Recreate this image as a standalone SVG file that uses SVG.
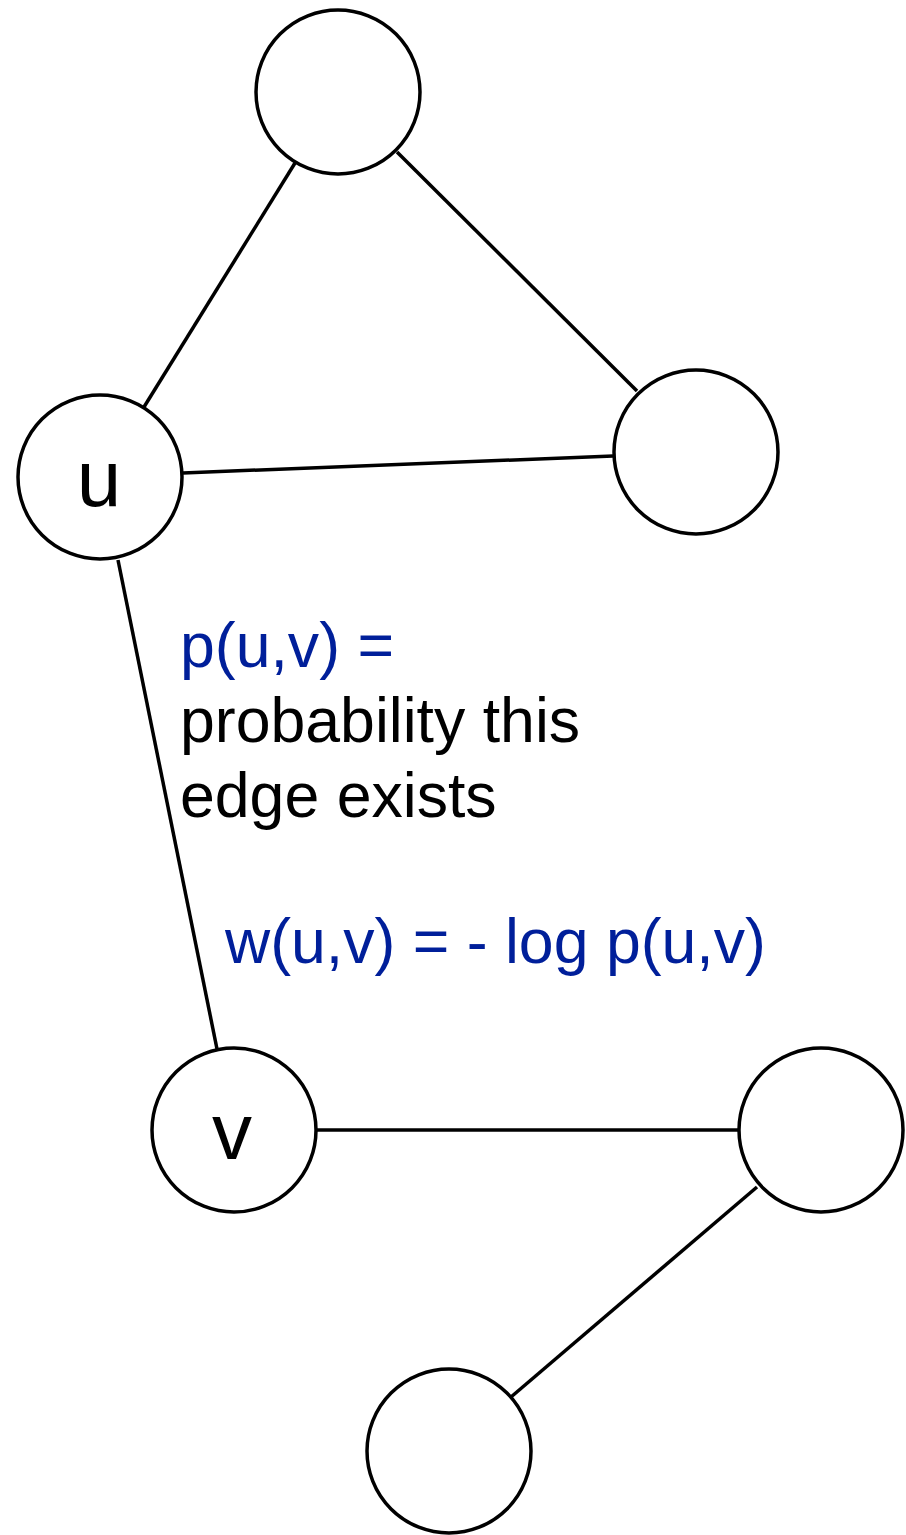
<svg xmlns="http://www.w3.org/2000/svg" width="906" height="1535" viewBox="0 0 906 1535">
<style>
.n{fill:#fff;stroke:#000;stroke-width:3.5}
.e{stroke:#000;stroke-width:3.5;fill:none}
.t{font-family:"Liberation Sans",Arial,sans-serif}
.lbl{font-size:80px;fill:#000;text-anchor:middle}
.blue{fill:#001F9A}
.txt{font-size:62.6px}
</style>
<rect width="906" height="1535" fill="#fff"/>
<g id="edges">
<line class="e" x1="295" y1="163" x2="144" y2="407"/>
<line class="e" x1="397" y1="152" x2="637" y2="391"/>
<line class="e" x1="183" y1="473" x2="613" y2="456"/>
<line class="e" x1="118" y1="560" x2="217" y2="1049"/>
<line class="e" x1="317" y1="1130" x2="739" y2="1130"/>
<line class="e" x1="757" y1="1187" x2="511" y2="1397"/>
</g>
<g id="node-top"><circle class="n" cx="338" cy="92" r="82"/></g>
<g id="node-u"><circle class="n" cx="100" cy="477" r="82"/><text class="t lbl" x="99" y="506">u</text></g>
<g id="node-right"><circle class="n" cx="696" cy="452" r="82"/></g>
<g id="node-v"><circle class="n" cx="234" cy="1130" r="82"/><text class="t lbl" x="232" y="1159">v</text></g>
<g id="node-rb"><circle class="n" cx="821" cy="1130" r="82"/></g>
<g id="node-bottom"><circle class="n" cx="449" cy="1451" r="82"/></g>
<g id="labels">
<text class="t txt" x="180" y="667"><tspan class="blue">p(u,v) =</tspan><tspan x="180" y="742">probability this</tspan><tspan x="180" y="817">edge exists</tspan></text>
<text class="t txt blue" x="225" y="963">w(u,v) = - log p(u,v)</text>
</g>
</svg>
